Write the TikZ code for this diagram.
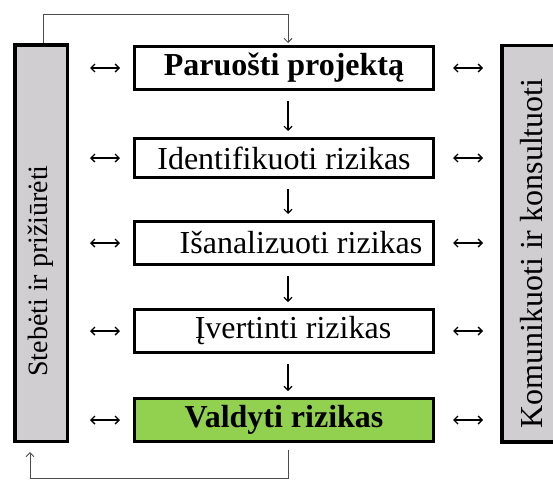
\documentclass[tikz,border=0pt]{standalone}
\usepackage{fontspec}
\setmainfont{Liberation Serif}
\usetikzlibrary{arrows.meta,calc}
\definecolor{sidegray}{RGB}{208,206,208}
\definecolor{actgreen}{RGB}{146,208,80}
\tikzset{
  stagebox/.style={draw, line width=3pt, minimum width=299pt, minimum height=43pt,
    inner sep=0pt, font=\fontsize{32}{36}\selectfont},
  sidebox/.style={draw, line width=3.5pt, fill=sidegray, minimum width=52.5pt,
    minimum height=396.5pt, inner sep=0pt, font=\fontsize{32}{36}\selectfont},
  link/.style={line width=1.4pt, {Straight Barb[length=4pt,width=8pt]}-{Straight Barb[length=4pt,width=8pt]}},
  flow/.style={line width=1.1pt, -{Straight Barb[length=4pt,width=8pt]}},
  back/.style={line width=1pt, draw=black!70, -{Straight Barb[length=4pt,width=8pt]}},
}
\begin{document}
\begin{tikzpicture}[x=1pt,y=-1pt]
        \useasboundingbox (0,0) rectangle (553,479);
        % side boxes
        \node[sidebox, font=\fontsize{28}{32}\selectfont] (steb) at (41,243) {\rotatebox{90}{Stebėti ir prižiūrėti\hspace*{56pt}}};
        \node[sidebox, minimum width=60pt] (kom) at (531.75,243.5) {\rotatebox{90}{Komunikuoti ir konsultuoti\hspace*{20pt}}};
        % stages
        \node[stagebox, font=\fontsize{32}{36}\selectfont\bfseries] (s1) at (284,68) {Paruošti projektą};
        \node[stagebox, minimum height=39pt] (s2) at (284,158) {Identifikuoti rizikas};
        \node[stagebox] (s3) at (284,243) {\hspace*{34pt}Išanalizuoti rizikas};
        \node[stagebox] (s4) at (284,331) {\hspace*{18pt}Įvertinti rizikas};
        \node[stagebox, fill=actgreen, font=\fontsize{32}{36}\selectfont\bfseries] (s5) at (284,420) {Valdyti rizikas};
        \foreach \a/\b in {s1/s2,s2/s3,s3/s4,s4/s5} {%
            \draw[flow, shorten <=10pt, shorten >=6pt] ([xshift=4pt]\a.south) -- ([xshift=4pt]\b.north);
        }
        \foreach \s in {s1,s2,s3,s4,s5} {%
            \draw[link, shorten <=21pt, shorten >=13pt] (steb.east |- \s.west) -- (\s.west);
            \draw[link, shorten <=18pt, shorten >=17pt] (\s.east) -- (kom.west |- \s.east);
        }
        % feedback loop
        \draw[back, shorten >=2pt] ([xshift=2pt]steb.north) -- ++(0,-29) -| ([xshift=4pt]s1.north);
        \draw[back, shorten <=7pt, shorten >=9pt] ([xshift=4pt]s5.south) -- ++(0,35) -| ([xshift=-11pt]steb.south);
\end{tikzpicture}
\end{document}
